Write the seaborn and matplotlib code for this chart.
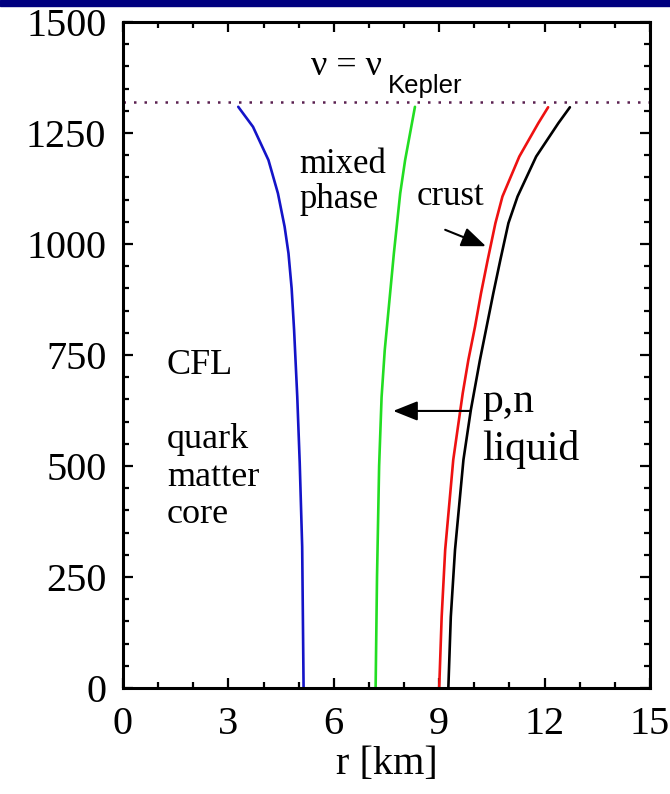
import numpy as np
import pandas as pd
import matplotlib
matplotlib.use("Agg")
import matplotlib.pyplot as plt
import seaborn as sns
from matplotlib.patches import Rectangle
from matplotlib.ticker import MultipleLocator

# ---- data ----
blue_nu = [0, 318, 507, 656, 806, 900, 979, 1039, 1114, 1189, 1264, 1309]
blue_r = [5.14, 5.10, 5.03, 4.96, 4.87, 4.80, 4.71, 4.60, 4.41, 4.14, 3.70, 3.28]

green_nu = [0, 250, 500, 655, 761, 979, 1039, 1114, 1189, 1309]
green_r = [7.19, 7.23, 7.29, 7.36, 7.45, 7.71, 7.79, 7.89, 8.03, 8.31]

red_nu = [0, 160, 311, 514, 664, 739, 814, 889, 964, 1047, 1107, 1197, 1272, 1308]
red_r = [9.00, 9.07, 9.17, 9.40, 9.67, 9.83, 10.02, 10.19, 10.38, 10.60, 10.80, 11.28, 11.82, 12.10]

black_nu = [0, 160, 311, 514, 626, 739, 814, 889, 964, 1047, 1107, 1197, 1272, 1308]
black_r = [9.26, 9.33, 9.45, 9.69, 9.90, 10.16, 10.35, 10.54, 10.74, 10.97, 11.23, 11.76, 12.39, 12.72]

nu_kepler = 1320
x_ticks = [0, 3, 6, 9, 12, 15]
y_ticks = [0, 250, 500, 750, 1000, 1250, 1500]

curves = {"quark core": (blue_r, blue_nu), "mixed": (green_r, green_nu),
          "crust": (red_r, red_nu), "surface": (black_r, black_nu)}
frames = []
for name, (r, nu) in curves.items():
    frames.append(pd.DataFrame({"r": r, "nu": nu, "curve": name}))
df = pd.concat(frames, ignore_index=True)
palette = {"quark core": "#1414c8", "mixed": "#22dd22", "crust": "#ee1111", "surface": "#000000"}

sns.set_style("ticks")
plt.rcParams["font.family"] = ["Liberation Serif", "DejaVu Serif"]
plt.rcParams["text.color"] = "black"
plt.rcParams["axes.labelcolor"] = "black"
plt.rcParams["xtick.color"] = "black"
plt.rcParams["ytick.color"] = "black"

fig = plt.figure(figsize=(6.70, 7.94), dpi=100)
ax = fig.add_axes([123 / 670, 1 - 688 / 794, (650 - 123) / 670, (688 - 22) / 794])

sns.lineplot(data=df, x="r", y="nu", hue="curve", palette=palette, sort=False,
             estimator=None, linewidth=1.9, legend=False, ax=ax)

ax.axhline(nu_kepler, color="#5a2050", linestyle=(0, (1, 3.2)), linewidth=1.8)

ax.set_xlim(0, 15)
ax.set_ylim(0, 1500)
ax.set_xticks(x_ticks)
ax.set_yticks(y_ticks)
ax.xaxis.set_minor_locator(MultipleLocator(1))
ax.yaxis.set_minor_locator(MultipleLocator(50))
ax.tick_params(which="both", direction="in", top=True, right=True, width=1.6, color="black")
ax.tick_params(which="major", length=7)
ax.tick_params(which="minor", length=4)
ax.tick_params(axis="y", which="major", labelsize=29, pad=12, labelcolor="black")
ax.tick_params(axis="x", which="major", labelsize=29, pad=13, labelcolor="black")
for s in ax.spines.values():
    s.set_linewidth(2.2)
    s.set_color("black")
ax.set_xlabel("r [km]", fontsize=29, labelpad=2)
ax.set_ylabel("")

# annotations (va='baseline' aligns the last line of multi-line text)
ax.text(6.35, 1380, "ν = ν", fontsize=26, ha="center", va="baseline")
ax.text(7.54, 1340, "Kepler", fontsize=18.5, ha="left", va="baseline",
        family=["Liberation Sans", "DejaVu Sans"])
ax.text(5.01, 1081, "mixed\nphase", fontsize=25, ha="left", va="baseline", linespacing=1.09)
ax.text(8.37, 1088, "crust", fontsize=25, ha="left", va="baseline")
ax.text(1.25, 707, "CFL", fontsize=26, ha="left", va="baseline")
ax.text(1.25, 372, "quark\nmatter\ncore", fontsize=26, ha="left", va="baseline", linespacing=1.17)
ax.text(10.22, 514, "p,n\nliquid", fontsize=30, ha="left", va="baseline", linespacing=1.3)

ax.annotate("", xy=(10.33, 995), xytext=(9.17, 1032),
            arrowprops=dict(arrowstyle="-|>,head_length=0.75,head_width=0.3",
                            mutation_scale=20, color="black", lw=1.5,
                            shrinkA=0, shrinkB=0))
ax.annotate("", xy=(7.69, 624), xytext=(9.88, 624),
            arrowprops=dict(arrowstyle="-|>,head_length=0.75,head_width=0.3",
                            mutation_scale=20, color="black", lw=1.5,
                            shrinkA=0, shrinkB=0))

# dark title bar at the very top
fig.patches.append(Rectangle((0, 1 - 6 / 794), 1, 6 / 794, transform=fig.transFigure,
                             color="#000080", zorder=10))

fig.savefig("out.png", dpi=100)
